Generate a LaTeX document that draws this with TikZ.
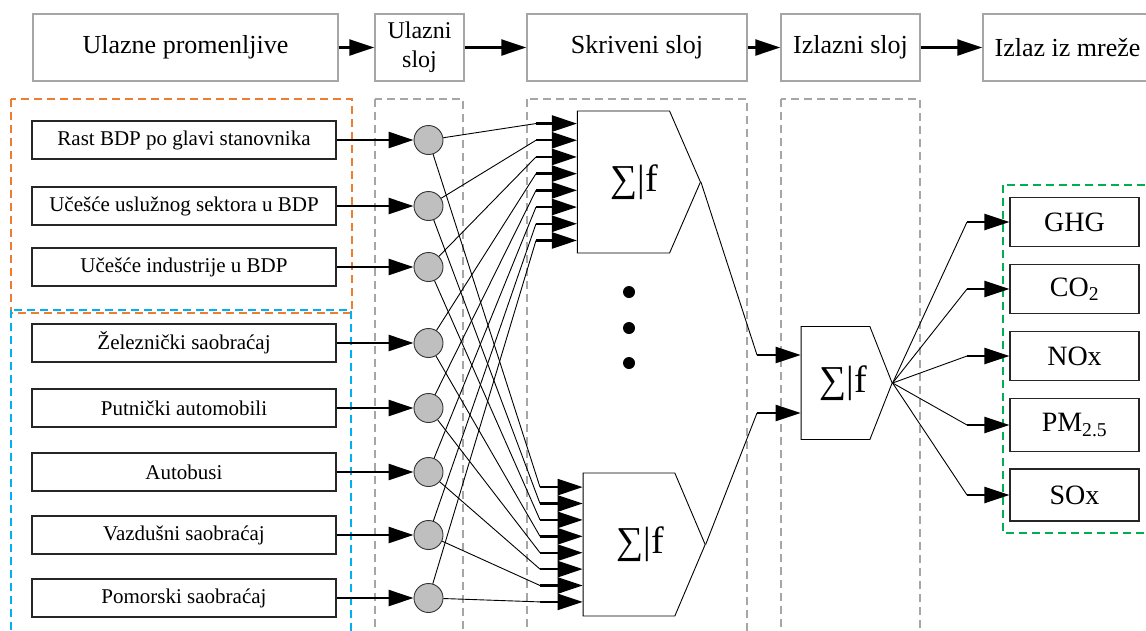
\documentclass[tikz,border=0pt]{standalone}
\usepackage{fontspec}
\setmainfont{Liberation Serif}
\usepackage{tikz}
\usetikzlibrary{arrows.meta, positioning, shapes.symbols}
\definecolor{frameorange}{HTML}{ED7D31}
\definecolor{frameblue}{HTML}{00B0F0}
\definecolor{framegreen}{HTML}{00B050}
\definecolor{framegray}{HTML}{A6A6A6}
\definecolor{neurongray}{HTML}{BFBFBF}
\tikzstyle{arrow} = [line width=2.4pt,-{Triangle[length=25pt,width=16pt]}]
\tikzstyle{link} = [line width=0.9pt]
\tikzstyle{dashframe} = [line width=1.8pt, dash pattern=on 8pt off 5pt]
\tikzstyle{header} = [rectangle, draw=framegray, line width=1.5pt, minimum height=67pt, text centered, align=center, inner sep=1pt, font=\fontsize{26}{29}\selectfont]
\tikzstyle{inputbox} = [rectangle, draw=black!85, line width=1.1pt, minimum width=304pt, minimum height=38pt, text centered, font=\fontsize{21}{24}\selectfont]
\tikzstyle{outputbox} = [rectangle, draw=black!85, line width=1.1pt, minimum width=129pt, minimum height=49pt, text centered, font=\fontsize{28}{30}\selectfont]
\tikzstyle{neuron} = [circle, draw=black!80, line width=0.9pt, fill=neurongray, minimum size=29pt, inner sep=0pt]
\tikzstyle{summator} = [signal, signal to=east, draw=black, line width=0.9pt, inner sep=0pt, font=\fontsize{38}{40}\selectfont]
\tikzstyle{dotnode} = [circle, fill=black, minimum size=12pt, inner sep=0pt]

\begin{document}
\begin{tikzpicture}[x=1pt, y=-1pt]
\useasboundingbox (0,0) rectangle (1146,630);

% Dashed frames
\draw [dashframe, frameorange] (11,99) rectangle (352,313);
\draw [dashframe, frameblue] (11,310) rectangle (351,645);
\draw [dashframe, framegray] (375,99) rectangle (463,645);
\draw [dashframe, framegray] (527,99) rectangle (747,645);
\draw [dashframe, framegray] (781,99) rectangle (920,645);
\draw [dashframe, framegreen] (1003,185) rectangle (1155,533);

% Header
\node (inputs) [header, minimum width=305pt] at (185.5,47.5) {Ulazne promenljive};
\node (inlayer) [header, minimum width=89pt, font=\fontsize{24}{29}\selectfont] at (419.5,47.5) {Ulazni\\sloj};
\node (hidden) [header, minimum width=220pt] at (637,47.5) {Skriveni sloj};
\node (outlayer) [header, minimum width=139pt] at (850.5,47.5) {Izlazni sloj};
\node (output) [header, minimum width=169pt] at (1067.5,47.5) {Izlaz iz mreže};
\draw [arrow] (inputs) -- (inlayer);
\draw [arrow] (inlayer) -- (hidden);
\draw [arrow] (hidden) -- (outlayer);
\draw [arrow] (outlayer) -- (output);

% Input variables
\node (var1) [inputbox] at (184,140) {Rast BDP po glavi stanovnika};
\node (var2) [inputbox] at (184,206) {Učešće uslužnog sektora u BDP};
\node (var3) [inputbox] at (184,267) {Učešće industrije u BDP};
\node (var4) [inputbox] at (184,343) {Železnički saobraćaj};
\node (var5) [inputbox] at (184,408) {Putnički automobili};
\node (var6) [inputbox] at (184,472) {Autobusi};
\node (var7) [inputbox] at (184,535) {Vazdušni saobraćaj};
\node (var8) [inputbox] at (184,598) {Pomorski saobraćaj};

% Input layer
\foreach \i in {1,...,8} {
  \node (neuron\i) [neuron, right=77pt of var\i] {};
  \draw [arrow] (var\i) -- (neuron\i);
}

% Hidden layer
\node (sumA) [summator, minimum width=123pt, minimum height=142pt, signal pointer angle=133] at (623.5,182) {\hspace*{22pt}∑|f};
\node (sumB) [summator, minimum width=122pt, minimum height=143pt, signal pointer angle=134] at (629,544.5) {\hspace*{22pt}∑|f};
\node (dot1) [dotnode] at (629,292) {};
\node (dot2) [dotnode] at (629,328) {};
\node (dot3) [dotnode] at (629,363) {};

\foreach \i in {1,...,8} {
  \coordinate (inA\i) at (536,{182+(\i-4.5)*16.7});
  \coordinate (inB\i) at (540,{544.5+(\i-4.5)*16.4});
  \draw [link] (neuron\i) -- (inA\i);
  \draw [link] (neuron\i) -- (inB\i);
  \draw [arrow] (inA\i) -- (inA\i -| sumA.west);
  \draw [arrow] (inB\i) -- (inB\i -| sumB.west);
}

% Output layer
\node (sumO) [summator, minimum width=91pt, minimum height=113pt, signal pointer angle=137] at (835.5,383) {\hspace*{15pt}∑|f};
\coordinate (inO1) at (757,355);
\coordinate (inO2) at (757,413);
\draw [link] (sumA.east) -- (inO1);
\draw [link] (sumB.east) -- (inO2);
\draw [arrow] (inO1) -- (inO1 -| sumO.west);
\draw [arrow] (inO2) -- (inO2 -| sumO.west);

% Network outputs
\node (ghg) [outputbox] at (1074.5,222) {GHG};
\node (co2) [outputbox] at (1074.5,289) {CO\textsubscript{2}};
\node (nox) [outputbox] at (1074.5,356) {NOx};
\node (pm) [outputbox, minimum height=53pt] at (1074.5,425) {PM\textsubscript{2.5}};
\node (sox) [outputbox, minimum height=52pt] at (1074.5,495) {SOx};
\foreach \o in {ghg,co2,nox,pm,sox} {
  \coordinate (to-\o) at (967,0 |- \o.west);
  \draw [link] (sumO.east) -- (to-\o);
  \draw [arrow] (to-\o) -- (\o);
}

\end{tikzpicture}
\end{document}
